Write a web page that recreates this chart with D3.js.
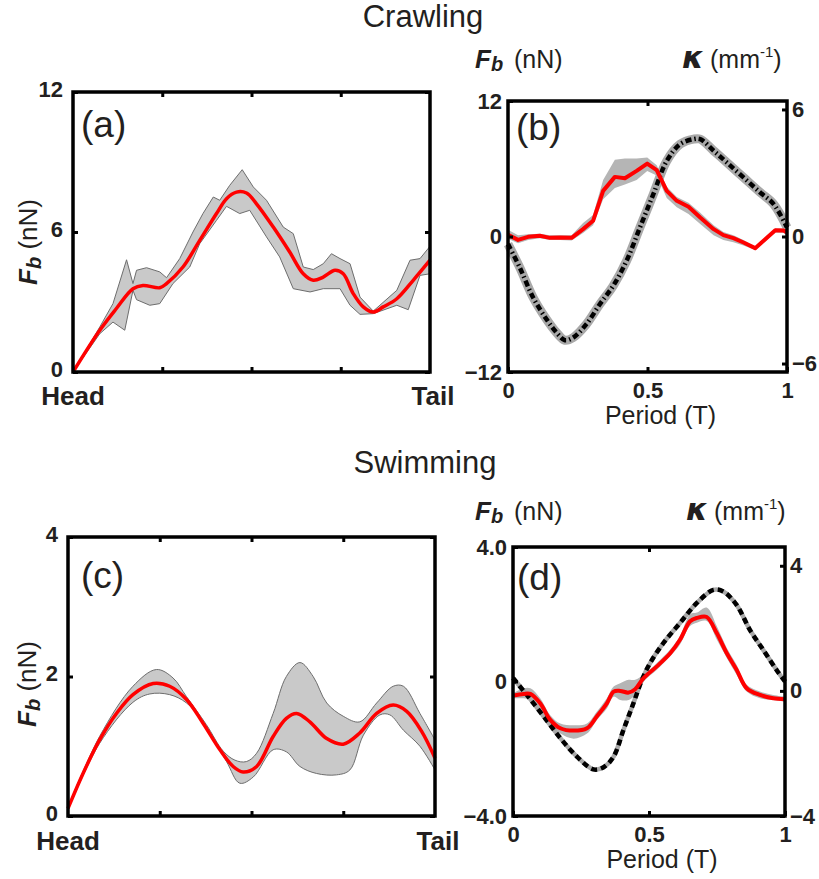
<!DOCTYPE html>
<html><head><meta charset="utf-8">
<script src="https://cdn.jsdelivr.net/npm/d3@7"></script>
<style>body{margin:0;background:#fff}text{font-family:"Liberation Sans",Arial,sans-serif;fill:#231f20}</style>
</head><body><svg id="c" width="819" height="879"></svg>
<script>
// ---------- (a) crawling, along body ----------
const aMeanX = [0,0.075,0.121,0.168,0.196,0.243,0.262,0.308,0.355,0.402,0.430,0.458,0.486,0.514,0.561,0.607,0.645,0.673,0.701,0.734,0.757,0.785,0.813,0.841,0.869,0.907,0.953,1.0];
const aMean  = [0,1.79,2.71,3.57,3.71,3.61,3.79,4.5,5.64,6.79,7.43,7.71,7.67,7.21,6.21,5.14,4.21,3.93,4.07,4.36,4.21,3.36,2.79,2.57,2.79,3.14,3.93,4.79];
const aUpX = [0,0.075,0.112,0.150,0.168,0.178,0.206,0.243,0.262,0.299,0.336,0.364,0.393,0.411,0.439,0.474,0.505,0.542,0.589,0.617,0.645,0.673,0.701,0.724,0.748,0.776,0.804,0.841,0.907,0.944,0.972,1.0];
const aUp  = [0,1.93,2.93,4.81,3.79,4.36,4.47,4.29,4.04,4.86,6.0,6.79,7.5,7.36,8.0,8.67,7.93,7.36,6.21,5.93,4.5,4.39,4.64,5.07,4.86,4.64,3.21,2.61,3.5,4.79,4.86,5.39];
const aLoX = [0,0.075,0.112,0.145,0.168,0.178,0.215,0.243,0.280,0.327,0.355,0.402,0.430,0.467,0.495,0.542,0.579,0.617,0.664,0.701,0.748,0.776,0.804,0.841,0.907,0.939,0.972,1.0];
const aLo  = [0,1.64,2.14,1.79,3.5,3.1,2.86,2.93,3.79,4.5,5.5,6.5,7.1,6.79,6.93,5.79,4.93,3.57,3.43,3.57,3.57,2.86,2.47,2.5,2.86,2.67,4.14,4.21];
const aTicksY = [0,6,12];

// ---------- (b) crawling, over period ----------
const bFX = [0,0.036,0.072,0.114,0.150,0.186,0.228,0.269,0.305,0.341,0.383,0.419,0.461,0.499,0.533,0.569,0.605,0.647,0.689,0.737,0.772,0.808,0.844,0.886,0.922,0.958,0.988,1];
const bF   = [0.15,-0.3,-0.03,0.06,-0.12,-0.09,-0.12,0.65,1.39,4.04,5.28,5.16,5.81,6.46,5.87,4.04,3.16,2.63,1.68,0.65,0.12,-0.15,-0.53,-1.03,-0.24,0.56,0.53,0.35];
const bFUp = [0.6,0.1,0.2,0.25,0.1,0.1,0.1,1.2,1.9,5.0,6.8,6.9,6.9,7.0,6.3,4.4,3.5,3.0,2.1,1.0,0.4,0.1,-0.3,-0.9,-0.1,0.7,0.7,0.6];
const bFLo = [-0.2,-0.6,-0.3,-0.15,-0.3,-0.3,-0.35,0.3,1.0,3.3,4.3,4.6,5.0,5.8,5.4,3.4,2.6,2.0,1.1,0.1,-0.3,-0.5,-0.8,-1.2,-0.45,0.35,0.3,0.1];
const bKX = [0,0.042,0.090,0.138,0.174,0.204,0.234,0.281,0.329,0.377,0.425,0.473,0.521,0.569,0.617,0.665,0.689,0.737,0.784,0.844,0.904,0.952,1];
const bK  = [-0.36,-1.46,-2.88,-3.91,-4.54,-4.90,-4.77,-4.14,-3.20,-2.33,-1.15,0.43,2.0,3.57,4.36,4.60,4.60,4.05,3.50,2.79,2.08,1.53,0.43];
const bTicksL = [-12,0,12], bTicksR = [-6,0,6], periodTicks = [0,0.5,1];

// ---------- (c) swimming, along body ----------
const cMeanX = [0,0.041,0.086,0.132,0.177,0.232,0.277,0.323,0.368,0.414,0.450,0.477,0.514,0.559,0.595,0.623,0.659,0.705,0.750,0.795,0.841,0.886,0.923,0.964,1.0];
const cMean  = [0.11,0.61,1.09,1.47,1.74,1.90,1.86,1.67,1.33,0.95,0.71,0.63,0.71,1.14,1.40,1.47,1.35,1.11,1.03,1.19,1.47,1.59,1.50,1.21,0.83];
const cUpX = [0,0.086,0.177,0.241,0.286,0.323,0.377,0.423,0.455,0.486,0.514,0.559,0.595,0.632,0.668,0.705,0.750,0.795,0.841,0.886,0.914,0.959,1.0];
const cUp  = [0.13,1.14,1.86,2.10,1.98,1.71,1.31,0.93,0.80,0.78,0.90,1.47,2.0,2.20,2.0,1.62,1.43,1.35,1.62,1.86,1.86,1.47,1.09];
const cLoX = [0,0.086,0.177,0.223,0.277,0.323,0.377,0.432,0.468,0.505,0.559,0.595,0.632,0.677,0.732,0.768,0.805,0.850,0.877,0.914,0.959,1.0];
const cLo  = [0.09,1.04,1.63,1.75,1.74,1.62,1.28,0.78,0.47,0.56,0.95,0.92,0.71,0.61,0.59,0.66,1.16,1.45,1.45,1.23,1.0,0.66];
const cTicksY = [0,2,4];

// ---------- (d) swimming, over period ----------
const dFX = [0,0.039,0.064,0.1,0.137,0.174,0.223,0.272,0.308,0.345,0.37,0.394,0.425,0.449,0.48,0.529,0.578,0.614,0.651,0.676,0.712,0.749,0.786,0.822,0.859,0.908,0.957,1];
const dF   = [-0.42,-0.37,-0.37,-0.65,-1.14,-1.39,-1.46,-1.39,-1.04,-0.65,-0.30,-0.28,-0.33,-0.23,0.10,0.45,0.84,1.24,1.79,1.89,1.92,1.44,0.84,0.35,-0.20,-0.40,-0.50,-0.53];
const dFUp = [-0.35,-0.2,-0.2,-0.5,-1.0,-1.25,-1.3,-1.25,-0.9,-0.5,-0.15,-0.05,0.05,0.05,0.2,0.55,0.95,1.35,2.0,2.05,2.2,1.65,1.0,0.5,-0.1,-0.3,-0.4,-0.45];
const dFLo = [-0.5,-0.5,-0.55,-0.8,-1.3,-1.55,-1.7,-1.55,-1.15,-0.8,-0.45,-0.55,-0.55,-0.4,0.0,0.35,0.75,1.1,1.65,1.75,1.8,1.25,0.7,0.2,-0.3,-0.5,-0.55,-0.6];
const dKX = [0,0.051,0.113,0.174,0.235,0.296,0.333,0.37,0.406,0.443,0.474,0.504,0.553,0.614,0.676,0.737,0.773,0.822,0.871,0.92,0.969,1];
const dK  = [0.41,-0.13,-0.82,-1.51,-2.10,-2.51,-2.44,-2.10,-1.25,-0.39,0.35,0.89,1.53,2.17,2.81,3.23,3.18,2.75,1.95,1.31,0.67,0.30];
const dTicksL = [-4,0,4], dTicksR = [-4,0,4];

const svg = d3.select("#c");
const TXT = "#231f20";
const pts = (xs, ys) => xs.map((x, i) => [x, ys[i]]);
const fmtMinus = d => String(d).replace("-", "\u2212");

function frame(g, X, Y) {
  g.append("rect").attr("x", X.range()[0]).attr("y", Y.range()[1])
    .attr("width", X.range()[1] - X.range()[0]).attr("height", Y.range()[0] - Y.range()[1])
    .attr("fill", "none").attr("stroke", "#000").attr("stroke-width", 3.5);
}
function styleAxis(sel) {
  sel.attr("font-family", null).attr("font-size", null);
  sel.select(".domain").remove();
  sel.selectAll(".tick line").attr("stroke", "#000").attr("stroke-width", 3);
  sel.selectAll(".tick text")
     .style("font-size", "22px").style("font-weight", "bold")
     .style("font-family", "'Liberation Sans', Arial, sans-serif").style("fill", TXT);
  return sel;
}
function yLabel(x, y) {
  const t = svg.append("text").attr("transform", `translate(${x},${y}) rotate(-90)`)
    .attr("text-anchor", "middle").attr("font-size", 26);
  t.append("tspan").text("F").attr("font-weight", "bold").attr("font-style", "italic");
  t.append("tspan").text("b").attr("font-weight", "bold").attr("font-style", "italic").attr("font-size", 20).attr("dy", 4);
  t.append("tspan").text(" (nN)").attr("dy", -4);
}
function header(xF, xK, y) {
  const t = svg.append("text").attr("x", xF).attr("y", y).attr("font-size", 25);
  t.append("tspan").text("F").attr("font-weight", "bold").attr("font-style", "italic").attr("font-size", 26);
  t.append("tspan").text("b").attr("font-weight", "bold").attr("font-style", "italic").attr("font-size", 20).attr("dy", 3);
  t.append("tspan").text("(nN)").attr("x", xF + 39).attr("dy", -3);
  const k = svg.append("text").attr("x", xK).attr("y", y).attr("font-size", 25);
  k.append("tspan").text("\u03BA").attr("font-style", "italic").attr("font-weight", "bold").attr("font-size", 31)
    .attr("font-family", "DejaVu Sans, sans-serif");
  k.append("tspan").text("(mm").attr("x", xK + 28);
  k.append("tspan").text("-1").attr("font-size", 15).attr("dy", -11);
  k.append("tspan").text(")").attr("dy", 11);
}
function panelLabel(txt, x, y) {
  svg.append("text").attr("x", x).attr("y", y).attr("font-size", 37).text(txt);
}

const smooth = d3.line().curve(d3.curveCatmullRom.alpha(0.5));
const straight = d3.line();

function bodyPanel(o) {
  const X = d3.scaleLinear().domain([0, 1]).range([o.x0, o.x1]);
  const Y = d3.scaleLinear().domain(o.yDom).range([o.y1, o.y0]);
  const g = svg.append("g");
  const up = pts(o.upX, o.up).map(p => [X(p[0]), Y(p[1])]);
  const lo = pts(o.loX, o.lo).map(p => [X(p[0]), Y(p[1])]).reverse();
  const gen = o.smoothBand ? smooth : straight;
  const dPath = gen(up) + gen(lo).replace(/^M/, "L") + "Z";
  g.append("path").attr("d", dPath).attr("fill", "#c9c9c9").attr("stroke", "#6d6d6d").attr("stroke-width", 1);
  g.append("path").attr("d", smooth(pts(o.mX, o.m).map(p => [X(p[0]), Y(p[1])])))
    .attr("fill", "none").attr("stroke", "#ff0000").attr("stroke-width", 3.5);
  const ax = styleAxis(g.append("g").attr("transform", `translate(${o.x0},0)`)
    .call(d3.axisLeft(Y).tickValues(o.yTicks).tickSize(-5).tickPadding(10).tickFormat(d3.format("d"))));
  ax.selectAll(".tick text").attr("dy", "0.2em");
  styleAxis(g.append("g").attr("transform", `translate(${o.x1},0)`)
    .call(d3.axisRight(Y).tickValues(o.yTicks).tickSize(-5).tickFormat("")));
  const xt = [0.25, 0.5, 0.75];
  styleAxis(g.append("g").attr("transform", `translate(0,${o.y1})`).call(d3.axisBottom(X).tickValues(xt).tickSize(-5).tickFormat("")));
  styleAxis(g.append("g").attr("transform", `translate(0,${o.y0})`).call(d3.axisTop(X).tickValues(xt).tickSize(-5).tickFormat("")));
  frame(g, X, Y);
  g.append("text").attr("x", X(0)).attr("y", o.y1 + o.headDy).attr("text-anchor", "middle")
    .attr("font-size", 26).attr("font-weight", "bold").text("Head");
  g.append("text").attr("x", X(1) + 3).attr("y", o.y1 + o.headDy).attr("text-anchor", "middle")
    .attr("font-size", 26).attr("font-weight", "bold").text("Tail");
}

function periodPanel(o) {
  const X = d3.scaleLinear().domain([0, 1]).range([o.x0, o.x1]);
  const Y = d3.scaleLinear().domain(o.yDom).range([o.y1, o.y0]);
  const K = d3.scaleLinear().domain(o.kDom).range([o.y1, o.y0]);
  const g = svg.append("g");
  const gen = o.smoothF ? smooth : straight;
  const up = pts(o.fx, o.fUp).map(p => [X(p[0]), Y(p[1])]);
  const lo = pts(o.fx, o.fLo).map(p => [X(p[0]), Y(p[1])]).reverse();
  g.append("path").attr("d", gen(up) + gen(lo).replace(/^M/, "L") + "Z").attr("fill", "#b5b5b5");
  const kp = pts(o.kx, o.k).map(p => [X(p[0]), K(p[1])]);
  g.append("path").attr("d", smooth(kp)).attr("fill", "none").attr("stroke", "#a9a9a9").attr("stroke-width", o.kBandW);
  g.append("path").attr("d", smooth(kp)).attr("fill", "none").attr("stroke", "#000")
    .attr("stroke-width", o.kDashW).attr("stroke-dasharray", o.kDash);
  g.append("path").attr("d", gen(pts(o.fx, o.f).map(p => [X(p[0]), Y(p[1])])))
    .attr("fill", "none").attr("stroke", "#ff0000").attr("stroke-width", 4).attr("stroke-linejoin", "round");
  styleAxis(g.append("g").attr("transform", `translate(${o.x0},0)`)
    .call(d3.axisLeft(Y).tickValues(o.lTicks).tickSize(-5).tickPadding(6).tickFormat(o.lFmt)));
  styleAxis(g.append("g").attr("transform", `translate(${o.x1},0)`)
    .call(d3.axisRight(K).tickValues(o.rTicks).tickSize(-5).tickPadding(5).tickFormat(d => fmtMinus(d))));
  styleAxis(g.append("g").attr("transform", `translate(0,${o.y1})`)
    .call(d3.axisBottom(X).tickValues(periodTicks).tickSize(-5).tickPadding(10).tickFormat(d => String(d))));
  styleAxis(g.append("g").attr("transform", `translate(0,${o.y0})`)
    .call(d3.axisTop(X).tickValues([0.5]).tickSize(-5).tickFormat("")));
  frame(g, X, Y);
  g.append("text").attr("x", (o.x0 + o.x1) / 2 + 13).attr("y", o.y1 + 52).attr("text-anchor", "middle")
    .attr("font-size", 25).text("Period (T)");
}

// Titles
svg.append("text").attr("x", 423).attr("y", 27).attr("text-anchor", "middle").attr("font-size", 31).text("Crawling");
svg.append("text").attr("x", 425).attr("y", 473).attr("text-anchor", "middle").attr("font-size", 31).text("Swimming");

// (a)
bodyPanel({x0: 73, x1: 430, y0: 92, y1: 372, yDom: [0, 12], yTicks: aTicksY,
  mX: aMeanX, m: aMean, upX: aUpX, up: aUp, loX: aLoX, lo: aLo, smoothBand: false, headDy: 33});
yLabel(37, 242);
panelLabel("(a)", 81, 137);

// (b)
header(475, 682, 68);
periodPanel({x0: 508, x1: 787, y0: 101, y1: 372, yDom: [-12, 12], kDom: [-6.4, 6.4],
  lTicks: bTicksL, rTicks: bTicksR, lFmt: d => fmtMinus(d),
  fx: bFX, f: bF, fUp: bFUp, fLo: bFLo, kx: bKX, k: bK, smoothF: false,
  kBandW: 9, kDashW: 4.5, kDash: "6,3,1.5,3"});
panelLabel("(b)", 516, 140);

// (c)
bodyPanel({x0: 68, x1: 435, y0: 537, y1: 816, yDom: [0, 4], yTicks: cTicksY,
  mX: cMeanX, m: cMean, upX: cUpX, up: cUp, loX: cLoX, lo: cLo, smoothBand: true, headDy: 34});
yLabel(36, 684);
panelLabel("(c)", 81, 588);

// (d)
header(475, 686, 520);
periodPanel({x0: 513, x1: 785, y0: 547, y1: 816, yDom: [-4, 4], kDom: [-4, 4.6],
  lTicks: dTicksL, rTicks: dTicksR, lFmt: d => fmtMinus(d3.format(".1f")(d)).replace(/^0\.0$/, "0"),
  fx: dFX, f: dF, fUp: dFUp, fLo: dFLo, kx: dKX, k: dK, smoothF: true,
  kBandW: 4.5, kDashW: 4.5, kDash: "6,4"});
panelLabel("(d)", 517, 590);
</script></body></html>
